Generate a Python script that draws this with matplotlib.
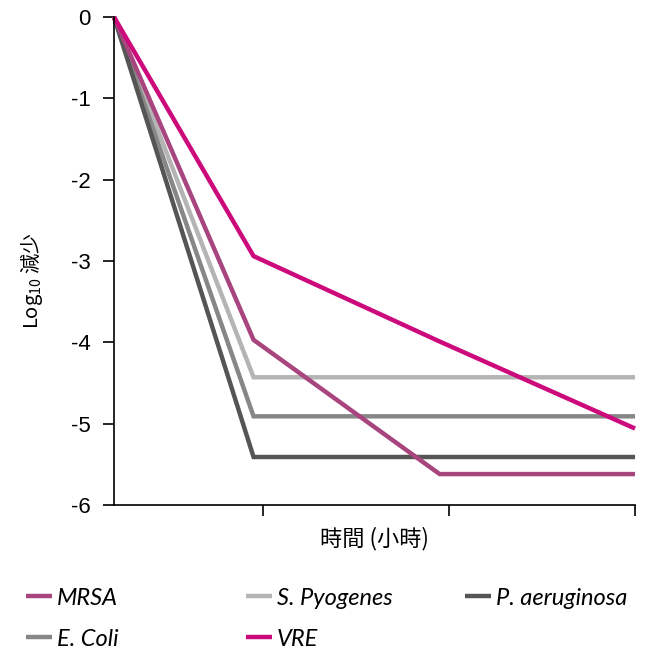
import matplotlib
matplotlib.use("Agg")
import matplotlib.pyplot as plt
from matplotlib.lines import Line2D

# time points (arbitrary spacing on the hour axis) and log10 reduction per strain
hours = [0, 0.75, 1.75, 2.8]
mrsa = [0, -3.97, -5.62, -5.62]
s_pyogenes = [0, -4.43, -4.43, -4.43]
p_aeruginosa = [0, -5.41, -5.41, -5.41]
e_coli = [0, -4.91, -4.91, -4.91]
vre = [0, -2.94, -3.99, -5.06]

hour_ticks = [0.8, 1.8, 2.8]
y_ticks = [0, -1, -2, -3, -4, -5, -6]

names = ["MRSA", "S. Pyogenes", "P. aeruginosa", "E. Coli", "VRE"]
colors = {"MRSA": "#a8457f", "S. Pyogenes": "#b4b4b4", "P. aeruginosa": "#555555",
          "E. Coli": "#878787", "VRE": "#cc0a7c"}
series = {"MRSA": mrsa, "S. Pyogenes": s_pyogenes, "P. aeruginosa": p_aeruginosa,
          "E. Coli": e_coli, "VRE": vre}

plt.rcParams['font.family'] = ['Liberation Sans', 'Noto Sans CJK TC', 'DejaVu Sans']
plt.rcParams['mathtext.default'] = 'regular'

fig = plt.figure(figsize=(6.47, 6.51), dpi=100)
ax = fig.add_axes([0.1762, 0.2243, 0.8053, 0.7496])

lw = 3.2
for n in ["S. Pyogenes", "E. Coli", "P. aeruginosa", "MRSA", "VRE"]:
    ax.plot(hours, series[n], color=colors[n], lw=lw, solid_joinstyle='miter',
            solid_capstyle='butt', clip_on=False)

ax.set_xlim(0, 2.8)
ax.set_ylim(-6, 0)
ax.set_yticks(y_ticks)
ax.set_yticklabels([str(v) for v in y_ticks])
ax.set_xticks(hour_ticks)
ax.set_xticklabels([])

for s in ["top", "right"]:
    ax.spines[s].set_visible(False)
for s in ["left", "bottom"]:
    ax.spines[s].set_linewidth(1.2)
ax.tick_params(axis='y', length=8, width=1.2, pad=9, labelsize=16)
ax.tick_params(axis='x', length=8, width=1.2)

ax.set_xlabel("時間 (小時)", family=['Noto Sans CJK TC'], fontsize=16, labelpad=4)
ax.set_ylabel("Log$_{10}$ 減少", family=['Noto Sans CJK TC'], fontsize=14.5)
ax.yaxis.set_label_coords(-0.132, 0.46)

# legend drawn by hand: two rows, three fixed columns
col_x = [0.040, 0.380, 0.719]
row_y = [0.0845, 0.0215]
hl = 0.040
for i, n in enumerate(names):
    x0 = col_x[i % 3]
    y0 = row_y[i // 3]
    fig.add_artist(Line2D([x0, x0 + hl], [y0, y0], transform=fig.transFigure,
                          color=colors[n], lw=lw, solid_capstyle='butt'))
    fig.text(x0 + hl + 0.008, y0 - 0.0131, n, family='Lato', style='italic',
             fontsize=17, va='baseline', ha='left')

fig.savefig("out.png", dpi=100)
